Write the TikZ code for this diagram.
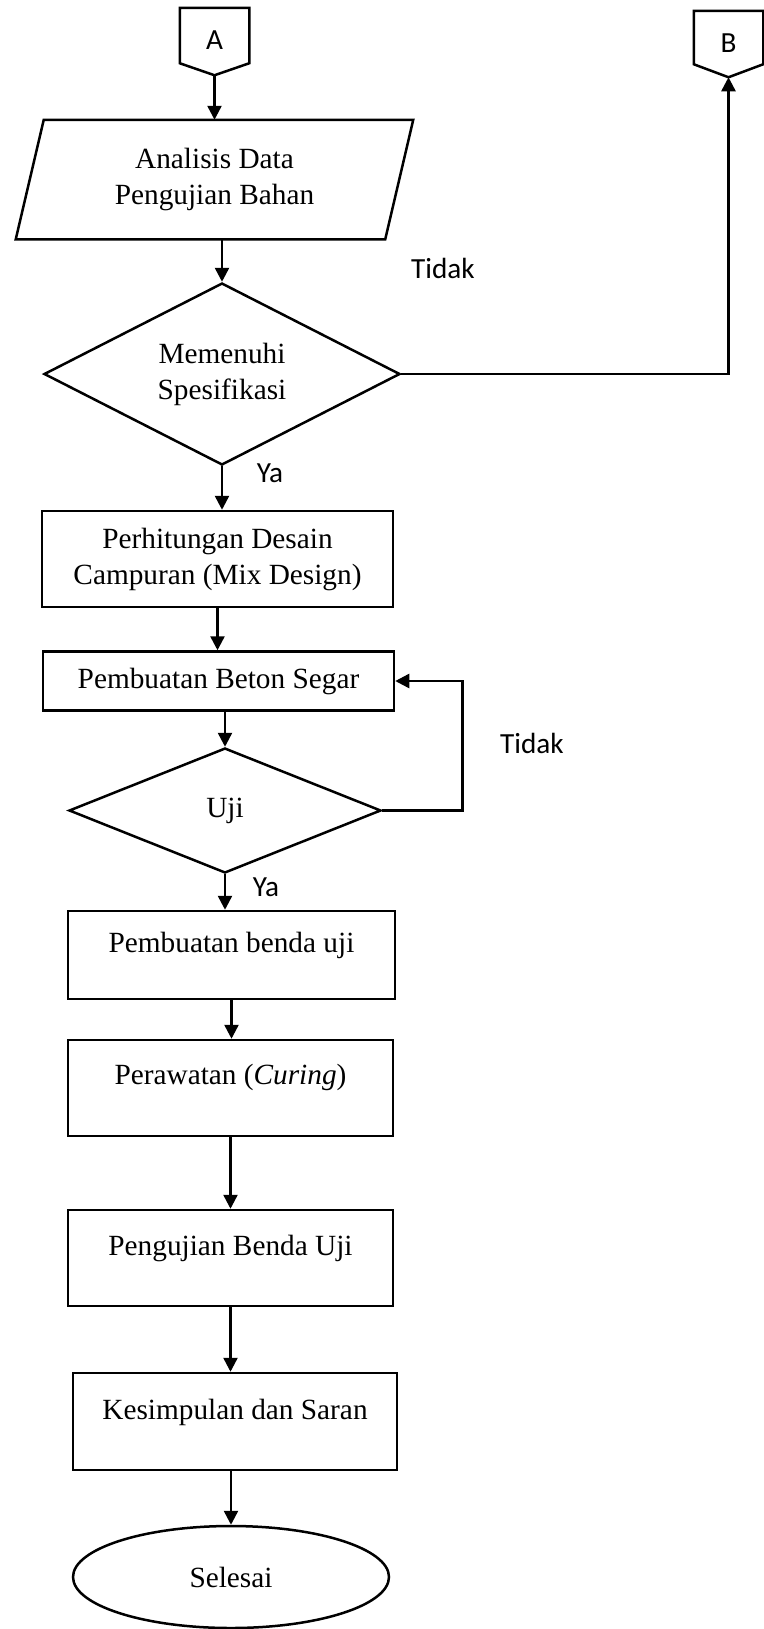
\documentclass[tikz,border=0pt]{standalone}
\usepackage{fontspec}
\setmainfont{Liberation Serif}
\newfontfamily\calib{Carlito}
\usetikzlibrary{shapes.geometric,arrows.meta,calc}
\begin{document}
\begin{tikzpicture}[x=0.5pt,y=-0.5pt,
  line width=1.25pt,
  arr/.style={-{Triangle[length=7pt,width=7pt]}},
  serif/.style={font=\fontsize{14.65}{18}\selectfont},
  box/.style={draw, rectangle, inner sep=0pt, align=center, serif},
  dia/.style={draw, diamond, inner sep=0pt, align=center, serif},
  plain/.style={draw=none, rectangle, inner sep=0pt, align=center, serif},
  lbl/.style={font=\calib\fontsize{14.6}{17}\selectfont, inner sep=0pt},
  txt/.style={inner sep=0pt, serif}
]
\useasboundingbox (0,0) rectangle (764,1629);

% off-page connectors
\node[plain, minimum width=33.5pt, minimum height=26.5pt] (A) at (214.5,35.5) {};
\coordinate (Atip) at ($(A.south)+(0,12)$);
\draw (A.north west) -- (A.north east) -- (A.south east) -- (Atip) -- (A.south west) -- cycle;
\node[lbl] (Atxt) at (214.5,40) {A};

\node[plain, minimum width=33.5pt, minimum height=25.5pt] (B) at (728.5,37.5) {};
\coordinate (Btip) at ($(B.south)+(0,13)$);
\draw (B.north west) -- (B.north east) -- (B.south east) -- (Btip) -- (B.south west) -- cycle;
\node[lbl] (Btxt) at (728.5,43) {B};

% parallelogram
\node[plain, minimum width=183.5pt, minimum height=58.5pt] (ana) at (214.5,179.5) {Analisis Data\\Pengujian Bahan};
\draw ($(ana.north west)+(14,0)$) -- ($(ana.north east)+(14,0)$) -- ($(ana.south east)+(-14,0)$) -- ($(ana.south west)+(-14,0)$) -- cycle;

% decision 1
\node[dia, aspect=1.96, minimum width=178pt, minimum height=91pt] (d1) at (222,374) {Memenuhi\\Spesifikasi};

\node[box, minimum width=175.5pt, minimum height=48pt] (b2) at (217.5,559) {Perhitungan Desain\\Campuran (Mix Design)};
\node[box, minimum width=175.5pt, minimum height=29.5pt] (b3) at (218.5,681) {Pembuatan Beton Segar};

\node[dia, aspect=2.5, minimum width=156pt, minimum height=62.5pt] (d2) at (225,810.5) {Uji};

\node[box, minimum width=163.5pt, minimum height=44pt] (b4) at (231.5,955) {};
\node[txt] (t4) at (231.5,945) {Pembuatan benda uji};
\node[box, minimum width=162.5pt, minimum height=48pt] (b5) at (230.5,1088) {};
\node[txt] (t5) at (230.5,1077) {Perawatan (\textit{Curing})};
\node[box, minimum width=162.5pt, minimum height=48pt] (b6) at (230.5,1258) {};
\node[txt] (t6) at (230.5,1248) {Pengujian Benda Uji};
\node[box, minimum width=162pt, minimum height=48.5pt] (b7) at (235,1421.5) {};
\node[txt] (t7) at (235,1412) {Kesimpulan dan Saran};

\node[draw, ellipse, inner sep=0pt, minimum width=158pt, minimum height=51pt, serif] (end) at (231,1577) {Selesai};

% labels
\node[lbl] (tidak1) at (443,268) {Tidak};
\node[lbl] (ya1) at (270,473) {Ya};
\node[lbl] (tidak2) at (532,743) {Tidak};
\node[lbl] (ya2) at (266,887) {Ya};

% connectors
\draw[arr] (Atip) -- (ana.north);
\draw[arr] (d1.north |- ana.south) -- (d1.north);
\draw[arr] (d1.east) -| (Btip);
\draw[arr] (d1.south) -- (d1.south |- b2.north);
\draw[arr] (b2.south) -- (b2.south |- b3.north);
\draw[arr] (d2.north |- b3.south) -- (d2.north);
\draw[arr] (d2.east) -- ++(80,0) |- (b3.east);
\draw[arr] (d2.south) -- (d2.south |- b4.north);
\draw[arr] (b4.south) -- (b4.south |- b5.north);
\draw[arr] (b5.south) -- (b5.south |- b6.north);
\draw[arr] (b6.south) -- (b6.south |- b7.north);
\draw[arr] (end.north |- b7.south) -- (end.north);
\end{tikzpicture}
\end{document}
